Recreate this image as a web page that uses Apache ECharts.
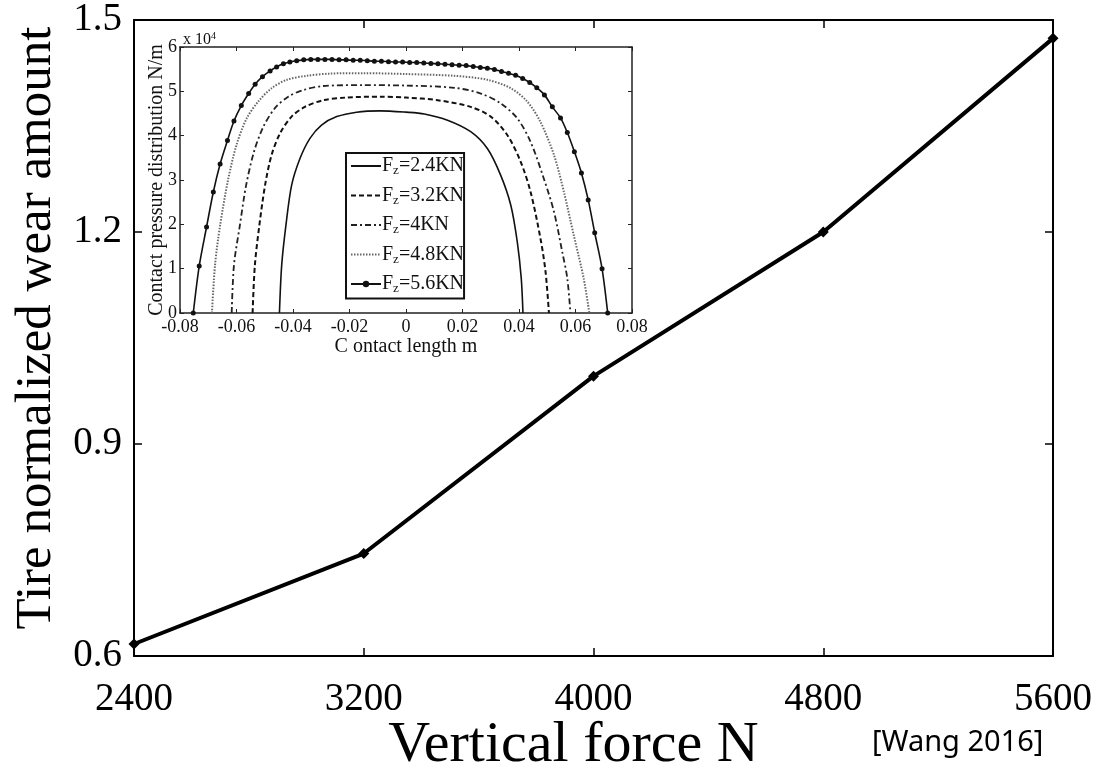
<!DOCTYPE html>
<html>
<head>
<meta charset="utf-8">
<script src="https://cdn.jsdelivr.net/npm/echarts@6/dist/echarts.min.js"></script>
<style>
  html, body { margin: 0; padding: 0; background: #fff; }
  #chart { width: 1096px; height: 770px; }
</style>
</head>
<body>
<div id="chart"></div>
<script>
// main curve
const forceN = [2400, 3200, 4000, 4800, 5600];
const wearAmount = [0.617, 0.745, 0.996, 1.2, 1.474];
const forceTicks = ['2400', '3200', '4000', '4800', '5600'];

// inset: contact pressure (x 10^4 N/m) vs contact length (m)
const loadNames = ['2.4KN', '3.2KN', '4KN', '4.8KN', '5.6KN'];

const len24 = [-0.0448, -0.044, -0.0425, -0.0405, -0.0375, -0.034, -0.0299, -0.0245, -0.0175, -0.0092, 0.0, 0.0065, 0.0147, 0.0229, 0.0288, 0.0335, 0.0371, 0.0394, 0.0408, 0.0414];
const p24 = [0, 1.08, 1.98, 2.88, 3.49, 3.94, 4.24, 4.43, 4.53, 4.56, 4.53, 4.49, 4.35, 4.09, 3.71, 3.11, 2.43, 1.60, 0.78, 0];

const len32 = [-0.0543, -0.0535, -0.0519, -0.0499, -0.0476, -0.0446, -0.0405, -0.0358, -0.0293, -0.0211, -0.0092, 0.0, 0.0112, 0.0229, 0.03, 0.0359, 0.0406, 0.0441, 0.0476, 0.0494, 0.0506];
const p32 = [0, 1.08, 1.98, 2.88, 3.56, 4.05, 4.43, 4.65, 4.80, 4.86, 4.88, 4.86, 4.80, 4.65, 4.43, 4.01, 3.41, 2.73, 1.68, 0.93, 0];

const len40 = [-0.0617, -0.0609, -0.0588, -0.0566, -0.0538, -0.0505, -0.0464, -0.0417, -0.0363, -0.0293, -0.0151, 0.0, 0.0171, 0.0265, 0.0335, 0.0394, 0.0441, 0.0488, 0.0524, 0.0553, 0.0571, 0.0582];
const p40 = [0, 1.08, 1.98, 2.88, 3.64, 4.20, 4.62, 4.88, 5.03, 5.12, 5.14, 5.13, 5.08, 4.95, 4.73, 4.39, 3.86, 3.03, 2.28, 1.38, 0.78, 0];

const len48 = [-0.0687, -0.0676, -0.0658, -0.0629, -0.06, -0.0564, -0.0523, -0.0476, -0.0422, -0.0352, -0.0269, -0.015, 0.0, 0.0171, 0.0288, 0.0371, 0.0429, 0.0476, 0.0524, 0.0559, 0.0594, 0.0629, 0.0649];
const p48 = [0, 1.08, 1.98, 3.03, 3.79, 4.39, 4.77, 5.07, 5.26, 5.35, 5.40, 5.41, 5.39, 5.35, 5.26, 5.07, 4.77, 4.31, 3.56, 2.73, 1.75, 0.78, 0];

const len56 = [-0.0753, -0.0732, -0.0706, -0.0682, -0.0658, -0.0632, -0.0609, -0.0583, -0.0557, -0.0534,
  -0.0508, -0.0481, -0.0458, -0.0434, -0.0411, -0.0387, -0.0362, -0.0337, -0.0312, -0.0287,
  -0.0262, -0.0237, -0.0212, -0.0187, -0.0162, -0.0137, -0.0112, -0.0087, -0.0062, -0.0037,
  -0.0012, 0.0013, 0.0038, 0.0063, 0.0088, 0.0113, 0.0138, 0.0163, 0.0188, 0.0213,
  0.0238, 0.0263, 0.0288, 0.0313, 0.0338, 0.0363, 0.0388, 0.0413, 0.0438, 0.0463,
  0.0490, 0.0518, 0.0547, 0.0571, 0.0596, 0.0621, 0.0645, 0.0668, 0.0694, 0.0714];
const p56 = [0, 1.06, 1.94, 2.73, 3.36, 3.89, 4.33, 4.68, 4.95, 5.16,
  5.33, 5.46, 5.55, 5.62, 5.66, 5.69, 5.71, 5.72, 5.72, 5.72,
  5.72, 5.71, 5.71, 5.70, 5.70, 5.69, 5.68, 5.68, 5.67, 5.66,
  5.66, 5.65, 5.65, 5.64, 5.63, 5.62, 5.61, 5.60, 5.59, 5.58,
  5.56, 5.54, 5.52, 5.49, 5.45, 5.41, 5.36, 5.29, 5.20, 5.08,
  4.92, 4.65, 4.40, 4.07, 3.64, 3.16, 2.55, 1.81, 1.00, 0];

const serif = 'Liberation Serif';
const pair = (xs, ys) => xs.map((x, i) => [x, ys[i]]);

const chart = echarts.init(document.getElementById('chart'));

const frameAxis = (extra) => Object.assign({
  axisLine: { show: true, onZero: false, lineStyle: { color: '#000', width: 2 } },
  axisTick: { show: true, inside: true, length: 8, lineStyle: { color: '#000', width: 1.5 } },
  splitLine: { show: false },
  nameMoveOverlap: false
}, extra);

const insetAxis = (extra) => Object.assign({
  axisLine: { show: true, onZero: false, lineStyle: { color: '#222', width: 1.5 } },
  axisTick: { show: true, inside: true, length: 4, lineStyle: { color: '#222', width: 1 } },
  splitLine: { show: false },
  nameMoveOverlap: false
}, extra);

chart.setOption({
  backgroundColor: '#fff',
  animation: false,
  grid: [
    { left: 134, right: 43, top: 20, bottom: 114, outerBoundsMode: 'none' },
    { left: 180, right: 464, top: 47, bottom: 457, outerBoundsMode: 'none', show: true, backgroundColor: '#fff', borderWidth: 0 }
  ],
  legend: {
    // only the 5.6KN line carries markers
    data: loadNames.map((n, i) => ({
      name: 'Fz=' + n,
      itemStyle: i < 4 ? { opacity: 0 } : undefined
    })),
    orient: 'vertical',
    left: 346,
    top: 153,
    itemWidth: 30,
    itemHeight: 8,
    itemGap: 8,
    padding: [3, 0, 3, 4],
    backgroundColor: '#fff',
    borderColor: '#111',
    borderWidth: 2,
    formatter: name => 'F{sub|z}' + name.slice(2),
    textStyle: {
      fontFamily: serif, fontSize: 20, color: '#111', padding: [0, 0, 0, -4],
      rich: { sub: { fontFamily: serif, fontSize: 13, color: '#111', padding: [10, 0, 0, 0] } }
    }
  },
  xAxis: [
    frameAxis({
      gridIndex: 0, type: 'value', min: 2400, max: 5600, interval: 800,
      axisLabel: {
        fontFamily: serif, fontSize: 39, color: '#000', margin: 24,
        formatter: v => forceTicks[forceN.indexOf(v)] || v
      },
      name: 'Vertical force N', nameLocation: 'middle', nameGap: 61,
      nameTextStyle: { fontFamily: serif, fontSize: 58, color: '#000', padding: [0, 40, 0, 0] }
    }),
    frameAxis({
      gridIndex: 0, type: 'value', position: 'top', min: 2400, max: 5600, interval: 800,
      axisLabel: { show: false }
    }),
    insetAxis({
      gridIndex: 1, type: 'value', min: -0.08, max: 0.08, interval: 0.02,
      axisLabel: { fontFamily: serif, fontSize: 18, color: '#111', margin: 5 },
      name: 'C ontact length m', nameLocation: 'middle', nameGap: 24,
      nameTextStyle: { fontFamily: serif, fontSize: 20, color: '#111' }
    }),
    insetAxis({
      gridIndex: 1, type: 'value', position: 'top', min: -0.08, max: 0.08, interval: 0.02,
      axisLabel: { show: false }
    })
  ],
  yAxis: [
    frameAxis({
      gridIndex: 0, type: 'value', min: 0.6, max: 1.5, interval: 0.3,
      axisLabel: { fontFamily: serif, fontSize: 39, color: '#000', margin: 12, formatter: v => v.toFixed(1) },
      name: 'Tire normalized wear amount', nameLocation: 'middle', nameGap: 72,
      nameTextStyle: { fontFamily: serif, fontSize: 51, color: '#000', padding: [0, 0, 0, 20] }
    }),
    frameAxis({
      gridIndex: 0, type: 'value', position: 'right', min: 0.6, max: 1.5, interval: 0.3,
      axisLabel: { show: false }
    }),
    insetAxis({
      gridIndex: 1, type: 'value', min: 0, max: 6, interval: 1,
      axisLabel: { fontFamily: serif, fontSize: 18, color: '#111', margin: 3 },
      name: 'Contact pressure distribution N/m', nameLocation: 'middle', nameGap: 13,
      nameTextStyle: { fontFamily: serif, fontSize: 20, color: '#111' }
    }),
    insetAxis({
      gridIndex: 1, type: 'value', position: 'right', min: 0, max: 6, interval: 1,
      axisLabel: { show: false }
    })
  ],
  graphic: [
    {
      type: 'text', left: 183, top: 31, z: 100,
      style: {
        text: 'x 10{sup|4}', fill: '#111', font: '16px "Liberation Serif"',
        rich: { sup: { fontSize: 10, fontFamily: serif, fill: '#111', padding: [0, 0, 8, 0] } }
      }
    },
    {
      type: 'text', left: 872, top: 728,
      style: { text: '[Wang 2016]', fill: '#000', font: '29px "Noto Sans"' }
    }
  ],
  series: [
    {
      type: 'line', xAxisIndex: 0, yAxisIndex: 0,
      data: pair(forceN, wearAmount),
      lineStyle: { color: '#000', width: 4 },
      itemStyle: { color: '#000' },
      symbol: 'diamond', symbolSize: 11, z: 1
    },
    {
      name: 'Fz=' + loadNames[0], type: 'line', xAxisIndex: 2, yAxisIndex: 2,
      data: pair(len24, p24), smooth: 0.3, symbol: 'none',
      lineStyle: { color: '#111', width: 1.6, type: 'solid' }, itemStyle: { color: '#111' }, z: 10
    },
    {
      name: 'Fz=' + loadNames[1], type: 'line', xAxisIndex: 2, yAxisIndex: 2,
      data: pair(len32, p32), smooth: 0.3, symbol: 'none',
      lineStyle: { color: '#111', width: 2, type: [5, 3] }, itemStyle: { color: '#111' }, z: 10
    },
    {
      name: 'Fz=' + loadNames[2], type: 'line', xAxisIndex: 2, yAxisIndex: 2,
      data: pair(len40, p40), smooth: 0.3, symbol: 'none',
      lineStyle: { color: '#222', width: 1.8, type: [6, 3, 2, 3] }, itemStyle: { color: '#222' }, z: 10
    },
    {
      name: 'Fz=' + loadNames[3], type: 'line', xAxisIndex: 2, yAxisIndex: 2,
      data: pair(len48, p48), smooth: 0.3, symbol: 'none',
      lineStyle: { color: '#666', width: 2, type: [1.5, 1.5] }, itemStyle: { color: '#666' }, z: 10
    },
    {
      name: 'Fz=' + loadNames[4], type: 'line', xAxisIndex: 2, yAxisIndex: 2,
      data: pair(len56, p56), smooth: 0.3, symbol: 'circle', symbolSize: 5,
      lineStyle: { color: '#111', width: 1.6 }, itemStyle: { color: '#111' }, z: 10
    }
  ]
});
</script>
</body>
</html>
